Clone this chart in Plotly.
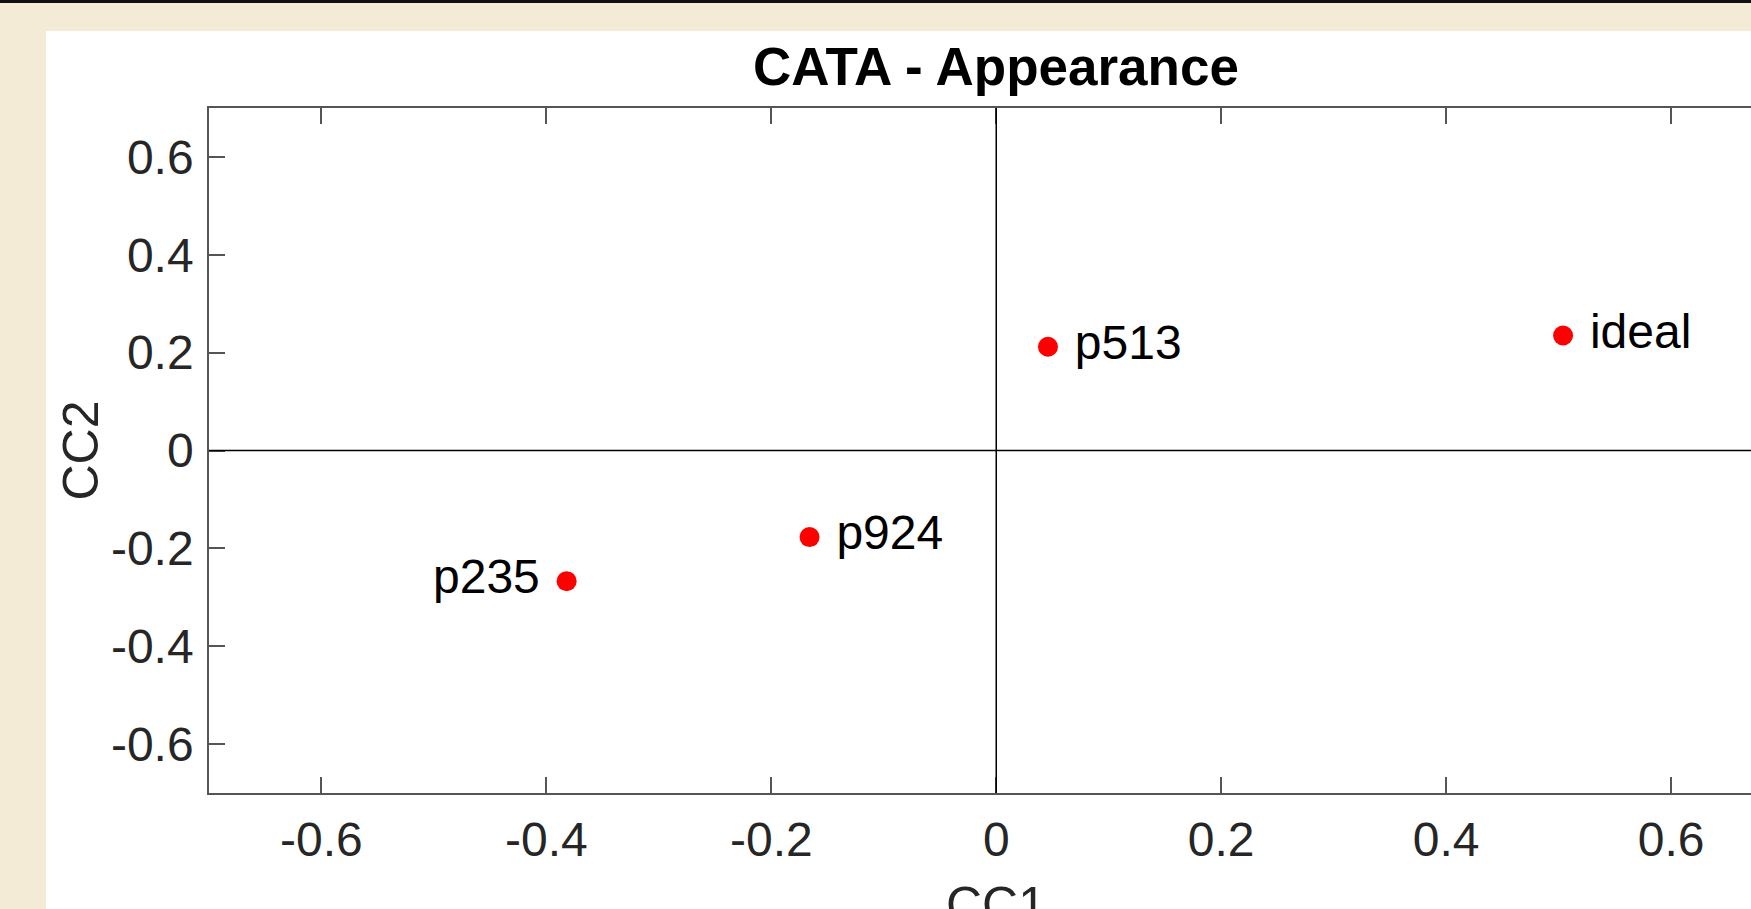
import plotly.graph_objects as go

# Canonical correlation scores for the appearance CATA attributes
samples = ["p235", "p924", "p513", "ideal"]
cc1 = [-0.382, -0.166, 0.046, 0.504]
cc2 = [-0.267, -0.177, 0.212, 0.235]
label_side = ["middle left", "middle right", "middle right", "middle right"]

tick_vals = [-0.6, -0.4, -0.2, 0, 0.2, 0.4, 0.6]
tick_text = ["-0.6", "-0.4", "-0.2", "0", "0.2", "0.4", "0.6"]

W, H = 1751, 909
L, R, T, B = 209, 0, 108, 116
FONT = "Liberation Sans, Arial, sans-serif"
BEIGE = "#F3EBD5"
AX = "#555555"

# visible portion of the symmetric [-0.7, 0.7] CC1 axis
x_lo = -0.7
x_hi = 0.6711

fig = go.Figure()
fig.add_trace(go.Scatter(
    x=cc1, y=cc2,
    mode="markers+text",
    text=[(s + " ") if p == "middle left" else (" " + s) for s, p in zip(samples, label_side)],
    textposition=label_side,
    textfont=dict(family=FONT, size=48, color="#000000"),
    marker=dict(color="#FF0000", size=20),
    cliponaxis=False,
    showlegend=False,
))

fig.update_xaxes(
    range=[x_lo, x_hi],
    tickvals=tick_vals, ticktext=tick_text,
    ticks="inside", ticklen=16, tickwidth=1.5, tickcolor=AX,
    showline=True, linecolor=AX, linewidth=1.5, mirror="ticks",
    showgrid=False, zeroline=False,
    tickfont=dict(family=FONT, size=48, color="#262626"),
    ticklabelstandoff=4,
)
fig.update_yaxes(
    range=[-0.7, 0.7],
    tickvals=tick_vals, ticktext=tick_text,
    ticks="inside", ticklen=16, tickwidth=1.5, tickcolor=AX,
    showline=True, linecolor=AX, linewidth=1.5, mirror=False,
    showgrid=False, zeroline=False,
    tickfont=dict(family=FONT, size=48, color="#262626"),
    ticklabelstandoff=4,
)

# origin cross-hairs spanning the whole plot area
fig.add_shape(type="line", xref="x", yref="paper", x0=0, x1=0, y0=0, y1=1,
              line=dict(color="#000000", width=1.5), layer="above")
fig.add_shape(type="line", xref="paper", yref="y", x0=0, x1=1, y0=0, y1=0,
              line=dict(color="#000000", width=1.5), layer="above")

pw = W - L - R
ph = H - T - B


def px_x(px):
    return (px - L) / pw


def px_y(py):
    return (H - B - py) / ph


# slide background: beige frame with a white panel and a dark top rule
fig.add_shape(type="rect", xref="paper", yref="paper", layer="below",
              x0=px_x(46), x1=px_x(W + 5), y0=px_y(H + 5), y1=px_y(31),
              fillcolor="#FFFFFF", line=dict(width=0))
fig.add_shape(type="rect", xref="paper", yref="paper", layer="above",
              x0=px_x(-5), x1=px_x(W + 5), y0=px_y(3), y1=px_y(-5),
              fillcolor="#111111", line=dict(width=0))

fig.add_annotation(text="<b>CATA - Appearance</b>", x=0, xref="x",
                   y=px_y(67), yref="paper", showarrow=False,
                   xanchor="center", yanchor="middle",
                   font=dict(family=FONT, size=53, color="#000000"))
fig.add_annotation(text="CC1", x=0, xref="x",
                   y=px_y(905), yref="paper", showarrow=False,
                   xanchor="center", yanchor="middle",
                   font=dict(family=FONT, size=50, color="#262626"))
fig.add_annotation(text="CC2", x=px_x(80), xref="paper",
                   y=0, yref="y", showarrow=False, textangle=-90,
                   xanchor="center", yanchor="middle",
                   font=dict(family=FONT, size=50, color="#262626"))

fig.update_layout(
    width=W, height=H,
    margin=dict(l=L, r=R, t=T, b=B, pad=0),
    paper_bgcolor=BEIGE, plot_bgcolor="#FFFFFF",
    font=dict(family=FONT),
)

fig.write_html("out.html", config={"displayModeBar": False})
